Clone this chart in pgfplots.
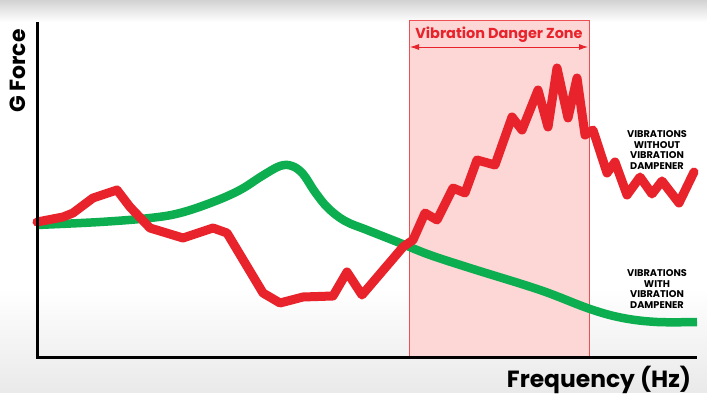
\documentclass[border=0pt]{standalone}
\usepackage{pgfplots}
\pgfplotsset{compat=1.18}
\usepackage{fontspec}
\setmainfont{Poppins}
\usetikzlibrary{arrows.meta}
\definecolor{redl}{HTML}{E8232B}
\definecolor{greenl}{HTML}{0CAE50}
\definecolor{zone}{HTML}{FDD6D6}
\begin{document}
\begin{tikzpicture}
\begin{axis}[
  scale only axis, width=707bp, height=393bp,
  xmin=0, xmax=707, ymin=0, ymax=393,
  hide axis, clip=false, enlargelimits=false,
]
% background
\fill[white] (axis cs:0,0) rectangle (axis cs:707,393);
\shade[top color=gray!35, bottom color=white] (axis cs:0,371) rectangle (axis cs:707,393);
\shade[top color=white, bottom color=gray!17] (axis cs:0,0) rectangle (axis cs:707,105);
% danger zone
\fill[zone] (axis cs:409,35) rectangle (axis cs:589,373);
\draw[redl!80, line width=0.6bp] (axis cs:409,35) -- (axis cs:409,373) -- (axis cs:589,373) -- (axis cs:589,35);
\draw[redl, line width=0.8bp, {Latex[length=9bp,width=6bp]}-{Latex[length=9bp,width=6bp]}] (axis cs:410,346) -- (axis cs:588,346);
\node[text=redl, font=\fontsize{14.5}{16}\selectfont\bfseries] at (axis cs:499,358) {Vibration Danger Zone};
% green
\addplot[greenl, line width=8.5bp, smooth, tension=0.6] coordinates {
(37,168) (100,171) (150,175) (180,180) (213,191) (240,203) (262,217) (280,227) (292,227) (303,219) (315,201) (328,185) (345,172) (367,163) (400,150) (430,138) (473,124) (540,103) (590,84) (623,75) (657,71) (697,71)
};
% red
\addplot[redl, line width=9bp, line join=round, line cap=round] coordinates {
(37,171) (63,176) (73,180) (93,195) (117,203) (130,186) (150,165) (183,155) (213,165) (227,160) (263,100) (280,90) (303,96) (333,97) (347,121) (362,98) (403,146) (413,153) (425,180) (437,173) (453,205) (465,200) (477,233) (495,228) (512,276) (522,263) (538,303) (548,266) (557,325) (568,275) (577,315) (585,258) (593,263) (607,220) (615,231) (627,198) (640,216) (652,199) (662,212) (679,190) (694,221)
};
% axes
\draw[black, line width=3bp] (axis cs:37,371) -- (axis cs:37,35) -- (axis cs:697,35);
% labels
\node[rotate=90, font=\fontsize{22}{24}\selectfont\bfseries] at (axis cs:18,322) {G Force};
\node[font=\fontsize{23.5}{26}\selectfont\bfseries] at (axis cs:599,13) {Frequency (Hz)};
\node[align=center, font=\fontsize{9.8}{10.6}\selectfont\bfseries] at (axis cs:657,243) {VIBRATIONS\\WITHOUT\\VIBRATION\\DAMPENER};
\node[align=center, font=\fontsize{9.8}{10.6}\selectfont\bfseries] at (axis cs:657,104) {VIBRATIONS\\WITH\\VIBRATION\\DAMPENER};
\end{axis}
\end{tikzpicture}
\end{document}
